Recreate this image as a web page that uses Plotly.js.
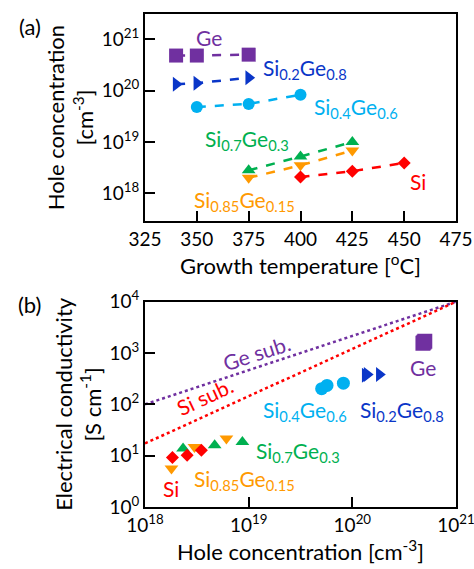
<!DOCTYPE html>
<html>
<head>
<meta charset="utf-8">
<script src="https://cdn.plot.ly/plotly-3.0.1.min.js"></script>
<style>html,body{margin:0;padding:0;background:#fff;}#chart{width:474px;height:569px;}</style>
</head>
<body>
<div id="chart"></div>
<script>
// ---- Panel (a): hole concentration vs growth temperature ----
var tempGe = [340, 350, 375];
var holeGe = [4.8e20, 4.8e20, 5.0e20];
var tempSi02 = [340, 350, 375];
var holeSi02 = [1.33e20, 1.39e20, 1.78e20];
var tempSi04 = [350, 375, 400];
var holeSi04 = [4.8e19, 5.5e19, 8.3e19];
var tempSi07 = [375, 400, 425];
var holeSi07 = [2.8e18, 5.2e18, 1.0e19];
var tempSi085 = [375, 400, 425];
var holeSi085 = [2.0e18, 3.5e18, 6.8e18];
var tempSi = [400, 425, 450];
var holeSi = [2.07e18, 2.7e18, 3.9e18];

// ---- Panel (b): conductivity vs hole concentration ----
var pGe = [4.8e20, 4.9e20, 5.0e20];
var sGe = [1550, 1620, 1700];
var pSi02 = [1.33e20, 1.39e20, 1.82e20];
var sSi02 = [370, 380, 380];
var pSi04 = [5.06e19, 5.7e19, 8.2e19];
var sSi04 = [202, 234, 259];
var pSi07 = [2.33e18, 4.7e18, 8.7e18];
var sSi07 = [13.8, 16, 18.5];
var pSi085 = [1.8e18, 3.0e18, 6.1e18];
var sSi085 = [5.6, 14.8, 21.6];
var pSi = [1.84e18, 2.55e18, 3.5e18];
var sSi = [9.2, 10.2, 12.8];

var geSubX = [1e18, 1e21];
var geSubY = [100, 1e4];
var siSubX = [1e18, 1e21];
var siSubY = [17.3, 1e4];

// ---- Tick labels ----
var xTicksA = [325, 350, 375, 400, 425, 450, 475];
var yTicksA = [1e18, 1e19, 1e20, 1e21];
var yTextA = ['10<sup>18</sup>', '10<sup>19</sup>', '10<sup>20</sup>', '10<sup>21</sup>'];
var xTicksB = [1e18, 1e19, 1e20, 1e21];
var xTextB = ['10<sup>18</sup>', '10<sup>19</sup>', '10<sup>20</sup>', '10<sup>21</sup>'];
var yTicksB = [1, 10, 100, 1000, 10000];
var yTextB = ['10<sup>0</sup>', '10<sup>1</sup>', '10<sup>2</sup>', '10<sup>3</sup>', '10<sup>4</sup>'];

var cGe = '#7030A0', cSi02 = '#0A36C8', cSi04 = '#00B0F0', cSi07 = '#00B050', cSi085 = '#FF9900', cSi = '#FF0000';

function lineTrace(x, y, color, symbol, size) {
  return {x: x, y: y, xaxis: 'x', yaxis: 'y', mode: 'lines+markers', type: 'scatter',
    line: {color: color, width: 2.5, dash: 'dash'},
    marker: {color: color, symbol: symbol, size: size}, showlegend: false, hoverinfo: 'skip'};
}
function ptTrace(x, y, color, symbol, size) {
  return {x: x, y: y, xaxis: 'x2', yaxis: 'y2', mode: 'markers', type: 'scatter',
    marker: {color: color, symbol: symbol, size: size}, showlegend: false, hoverinfo: 'skip'};
}

var data = [
  lineTrace(tempGe, holeGe, cGe, 'square', 14),
  lineTrace(tempSi02, holeSi02, cSi02, 'triangle-right', 13),
  lineTrace(tempSi04, holeSi04, cSi04, 'circle', 12),
  lineTrace(tempSi07, holeSi07, cSi07, 'triangle-up', 12),
  lineTrace(tempSi085, holeSi085, cSi085, 'triangle-down', 12),
  lineTrace(tempSi, holeSi, cSi, 'diamond', 10),
  {x: geSubX, y: geSubY, xaxis: 'x2', yaxis: 'y2', mode: 'lines', type: 'scatter',
   line: {color: cGe, width: 2.5, dash: 'dot'}, showlegend: false, hoverinfo: 'skip'},
  {x: siSubX, y: siSubY, xaxis: 'x2', yaxis: 'y2', mode: 'lines', type: 'scatter',
   line: {color: cSi, width: 2.5, dash: 'dot'}, showlegend: false, hoverinfo: 'skip'},
  ptTrace(pGe, sGe, cGe, 'square', 15),
  ptTrace(pSi02, sSi02, cSi02, 'triangle-right', 13),
  ptTrace(pSi04, sSi04, cSi04, 'circle', 13),
  ptTrace(pSi07, sSi07, cSi07, 'triangle-up', 12),
  ptTrace(pSi085, sSi085, cSi085, 'triangle-down', 12),
  ptTrace(pSi, sSi, cSi, 'diamond', 10)
];

var FONT = 'Lato, "Open Sans", sans-serif';
var fs = 19, fsT = 22, fsA = 21;

function ax(extra) {
  var base = {showgrid: false, zeroline: false, showline: true, linecolor: '#000', linewidth: 2,
    mirror: true, ticks: 'inside', ticklen: 10, tickwidth: 2, tickcolor: '#000',
    ticklabeloverflow: 'allow',
    tickfont: {family: FONT, size: fs, color: '#000'}};
  for (var k in extra) base[k] = extra[k];
  return base;
}

function ann(text, x, y, xref, yref, color, extra) {
  var a = {text: text, x: x, y: y, xref: xref, yref: yref, showarrow: false,
    font: {family: FONT, size: fsA, color: color}, xanchor: 'center', yanchor: 'middle'};
  if (extra) for (var k in extra) a[k] = extra[k];
  return a;
}

var layout = {
  width: 474, height: 569,
  margin: {l: 145, r: 18, t: 14, b: 62},
  paper_bgcolor: '#fff', plot_bgcolor: '#fff',
  font: {family: FONT, size: fs, color: '#000'},
  xaxis: ax({domain: [0, 1], anchor: 'y', range: [325, 475], tickvals: xTicksA,
    title: {text: 'Growth temperature [<sup>o</sup>C]', font: {family: FONT, size: fsT}, standoff: 4}}),
  yaxis: ax({domain: [0.58, 1], anchor: 'x', type: 'log', range: [17.46, 21.49],
    tickvals: yTicksA, ticktext: yTextA,
    title: {text: 'Hole concentration<br>[cm<sup>-3</sup>]', font: {family: FONT, size: fsT}, standoff: 2}}),
  xaxis2: ax({domain: [0, 1], anchor: 'y2', type: 'log', range: [18, 21.0001],
    tickvals: xTicksB, ticktext: xTextB,
    title: {text: 'Hole concentration [cm<sup>-3</sup>]', font: {family: FONT, size: fsT}, standoff: 4}}),
  yaxis2: ax({domain: [0, 0.4164], anchor: 'x2', type: 'log', range: [0, 4],
    tickvals: yTicksB, ticktext: yTextB,
    title: {text: 'Electrical conductivity<br>[S cm<sup>-1</sup>]', font: {family: FONT, size: fsT}, standoff: 2}}),
  annotations: [
    ann('(a)', -0.37, 0.975, 'paper', 'paper', '#000', {font: {family: FONT, size: fsT, color: '#000'}}),
    ann('(b)', -0.37, 0.41, 'paper', 'paper', '#000', {font: {family: FONT, size: fsT, color: '#000'}}),
    ann('Ge', 356, 21.04, 'x', 'y', cGe),
    ann('Si<sub>0.2</sub>Ge<sub>0.8</sub>', 402, 20.42, 'x', 'y', cSi02),
    ann('Si<sub>0.4</sub>Ge<sub>0.6</sub>', 427, 19.66, 'x', 'y', cSi04),
    ann('Si<sub>0.7</sub>Ge<sub>0.3</sub>', 374.3, 19.03, 'x', 'y', cSi07),
    ann('Si<sub>0.85</sub>Ge<sub>0.15</sub>', 373, 17.86, 'x', 'y', cSi085),
    ann('Si', 456.7, 18.23, 'x', 'y', cSi),
    ann('Ge sub.', 19.08, 3.01, 'x2', 'y2', cGe, {textangle: -18}),
    ann('Si sub.', 18.57, 2.16, 'x2', 'y2', cSi, {textangle: -25}),
    ann('Ge', 20.686, 2.724, 'x2', 'y2', cGe),
    ann('Si<sub>0.4</sub>Ge<sub>0.6</sub>', 19.545, 1.88, 'x2', 'y2', cSi04),
    ann('Si<sub>0.2</sub>Ge<sub>0.8</sub>', 20.477, 1.88, 'x2', 'y2', cSi02),
    ann('Si<sub>0.7</sub>Ge<sub>0.3</sub>', 19.478, 1.07, 'x2', 'y2', cSi07),
    ann('Si<sub>0.85</sub>Ge<sub>0.15</sub>', 18.963, 0.52, 'x2', 'y2', cSi085),
    ann('Si', 18.255, 0.363, 'x2', 'y2', cSi)
  ]
};

Plotly.newPlot('chart', data, layout, {staticPlot: true, displayModeBar: false});
</script>
</body>
</html>
